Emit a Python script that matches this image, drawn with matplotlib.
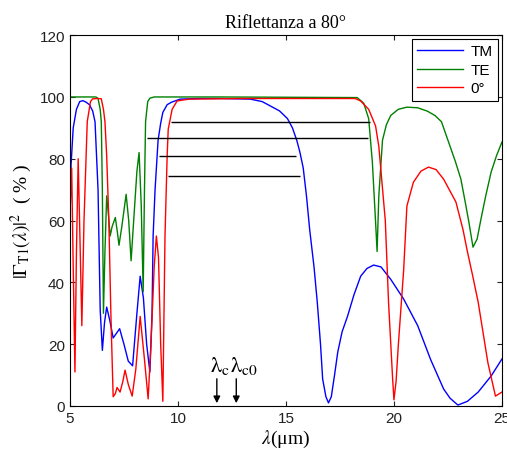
import numpy as np
import matplotlib
matplotlib.use('Agg')
import matplotlib.pyplot as plt

plt.rcParams['mathtext.fontset'] = 'stix'

# data (lambda in um, reflectance in %)
tm_x = [5.0, 5.05, 5.15, 5.3, 5.45, 5.6, 5.75, 5.9, 6.05, 6.16, 6.3, 6.4, 6.5, 6.6, 6.7, 6.85,
        7.0, 7.15, 7.3, 7.5, 7.7, 7.9, 8.1, 8.25, 8.4, 8.55, 8.7, 8.8, 8.85, 8.94, 9.08, 9.2,
        9.3, 9.5, 9.7, 10.1, 11, 12, 13.35, 13.9, 14.3, 14.7, 15.07, 15.3, 15.5, 15.65, 15.8,
        15.95, 16.1, 16.3, 16.45, 16.6, 16.7, 16.85, 16.97, 17.1, 17.25, 17.4, 17.6, 17.85,
        18.15, 18.46, 18.75, 19.06, 19.4, 19.85, 20.45, 21.1, 21.7, 22.3, 22.6, 22.96, 23.4,
        23.9, 24.5, 25.0]
tm_y = [60, 78, 90, 96, 98.5, 98.8, 98.3, 97.5, 95.5, 92, 70, 31, 18, 27, 32, 27.5,
        22, 23.5, 25, 20, 14.5, 13, 30, 42, 35, 20, 11, 30, 55, 70, 86, 91.5,
        95, 97.5, 98.3, 99.3, 99.5, 99.5, 99.3, 98.5, 97, 95.5, 93, 90, 86, 82, 77,
        68, 57, 45, 33.6, 20, 8.7, 3, 1, 3, 10, 17.5, 24, 29,
        36, 42, 44.5, 45.6, 45, 41, 34.6, 26, 15, 5.5, 2.5, 0.3, 1.5,
        4.5, 9.7, 15.2]

te_x = [5.0, 6.2, 6.3, 6.4, 6.45, 6.5, 6.55, 6.62, 6.7, 6.78, 6.86, 6.95, 7.1, 7.2, 7.27,
        7.4, 7.6, 7.72, 7.83, 7.95, 8.1, 8.2, 8.3, 8.39, 8.45, 8.5, 8.6, 8.7, 8.9, 12,
        18.3, 18.6, 18.83, 19.0, 19.15, 19.22, 19.3, 19.47, 19.65, 19.85, 20.2, 20.6, 21.1,
        21.55, 21.9, 22.2, 22.6, 22.85, 23.1, 23.3, 23.47, 23.66, 23.85, 24.03, 24.25, 24.5,
        24.75, 25.0]
te_y = [100, 100, 99.5, 96, 92, 70, 30, 50, 68, 62, 55, 58, 61, 56, 52,
        58, 68.5, 60, 47, 60, 76, 82, 65, 37, 70, 92, 98.5, 99.6, 100, 100,
        99.8, 98, 93, 79, 59.5, 50, 68, 86, 91, 94, 96, 96.7, 96.5,
        95.4, 94, 92, 84, 79, 73.4, 66, 59.5, 51.4, 54, 60.5, 68, 75.7,
        81, 85.4]

n_x = [5.0, 5.08, 5.15, 5.23, 5.3, 5.38, 5.46, 5.55, 5.65, 5.8, 5.95, 6.05, 6.3, 6.45,
       6.55, 6.62, 6.7, 6.8, 6.9, 7.0, 7.1, 7.18, 7.32, 7.45, 7.55, 7.7, 7.88, 8.05, 8.25,
       8.45, 8.62, 8.75, 8.9, 9.0, 9.1, 9.2, 9.3, 9.4, 9.5, 9.55, 9.73, 9.96, 10.5, 13,
       18.2, 18.46, 18.83, 19.15, 19.3, 19.5, 19.6, 19.75, 19.94, 20.0, 20.1, 20.2, 20.45,
       20.6, 20.9, 21.25, 21.6, 21.95, 22.3, 22.87, 23.2, 23.4, 23.65, 23.9, 24.35, 24.7, 25.0]
n_y = [62, 77, 45, 11, 50, 80, 55, 26, 60, 92, 98.5, 99.4, 99.5, 99.4,
       96, 92, 81, 60, 28, 3, 4, 6, 4.5, 8, 11.6, 7, 3.2, 12, 29,
       15, 2.3, 20, 45, 55, 48, 20, 1.5, 55, 81, 89.6, 96, 98.7, 99.3, 99.5,
       99.5, 98.7, 96, 90.6, 84, 68, 60, 33.6, 8.7, 2, 8, 19.4, 44,
       64.7, 72.4, 76, 77.3, 76.5, 73.4, 66, 57, 50, 42, 33.6, 14, 3.2, 4.5]

# horizontal bars
hl_y = [92, 86.7, 80.8, 74.4]
hl_x0 = [9.7, 8.55, 9.1, 9.55]
hl_x1 = [18.9, 18.8, 15.45, 15.65]

# cutoff wavelengths
lam_c = 11.8
lam_c0 = 12.7

fig = plt.figure(figsize=(5.07, 4.52), dpi=100)
ax = fig.add_axes([0.138, 0.0996, 0.852, 0.8204])

ax.plot(tm_x, tm_y, color='#0000ff', lw=1, label='TM')
ax.plot(te_x, te_y, color='#008000', lw=1, label='TE')
ax.plot(n_x, n_y, color='#ff0000', lw=1, label='0°')
ax.hlines(hl_y, hl_x0, hl_x1, colors='black', lw=1)

for xc in [lam_c, lam_c0]:
    ax.annotate('', xy=(xc, 0), xytext=(xc, 9.7),
                arrowprops=dict(arrowstyle='-|>', color='black', lw=1, mutation_scale=10))
ax.text(lam_c - 0.3, 11.3, r'$\mathrm{\lambda}_{\mathrm{c}}$', fontsize=16, ha='left', va='baseline')
ax.text(lam_c0 - 0.3, 11.3, r'$\mathrm{\lambda}_{\mathrm{c0}}$', fontsize=16, ha='left', va='baseline')

ax.set_xlim(5, 25)
ax.set_ylim(0, 120)
ax.set_xticks([5, 10, 15, 20, 25])
ax.set_yticks([0, 20, 40, 60, 80, 100, 120])
ax.tick_params(direction='in', top=True, right=True, labelsize=11, colors='#222222')
for lab in ax.get_xticklabels() + ax.get_yticklabels():
    lab.set_family('Liberation Sans')

ax.set_title('Riflettanza a 80°', family='Liberation Serif', fontsize=13, pad=6)
ax.set_xlabel(r'$\lambda$(μm)', family='Liberation Serif', fontsize=14, labelpad=2)
ax.set_ylabel(r'$|\Gamma_{\mathrm{T1}}(\lambda)|^2$  ( % )', family='Liberation Serif',
              fontsize=14, labelpad=4)

leg = ax.legend(loc='upper right', fancybox=False, edgecolor='black', framealpha=1,
                prop={'family': 'Liberation Sans', 'size': 11}, handlelength=3.0,
                handletextpad=0.5, borderaxespad=0.25, labelspacing=0.3, borderpad=0.35)
leg.get_frame().set_linewidth(0.8)

fig.savefig('out.png', dpi=100)
